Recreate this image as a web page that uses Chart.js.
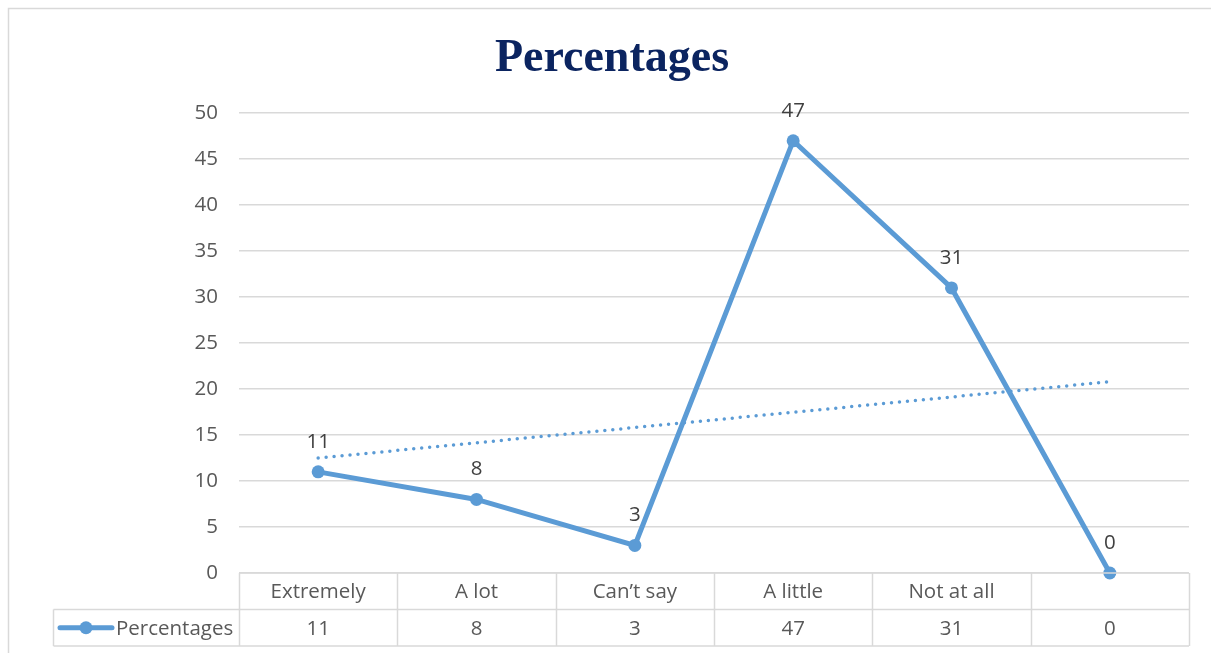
<!DOCTYPE html>
<html>
<head>
<meta charset="utf-8">
<script src="https://cdn.jsdelivr.net/npm/chart.js@4/dist/chart.umd.min.js"></script>
<style>
  html, body { margin: 0; padding: 0; background: #ffffff; }
  #wrap { width: 1211px; height: 653px; }
</style>
</head>
<body>
<div id="wrap"><canvas id="c" width="1211" height="653"></canvas></div>
<script>
// Survey responses, one point per answer
const categories = ['Extremely', 'A lot', 'Can\u2019t say', 'A little', 'Not at all', ''];
const percentages = [11, 8, 3, 47, 31, 0];
// Linear trend line, start and end values
const trendValues = [12.5, null, null, null, null, 20.8];
const seriesName = 'Percentages';

const BLUE = '#5B9BD5';
const TEXT = '#595959';
const GRID = '#d9d9d9';
const FONT = '"Open Sans", "Liberation Sans", sans-serif';
const FONT_SIZE = 20.5;

// Frame, point value labels and the data table under the plot
const tablePlugin = {
  id: 'dataTable',
  beforeDraw(chart) {
    const ctx = chart.ctx;
    ctx.save();
    ctx.fillStyle = '#ffffff';
    ctx.fillRect(0, 0, chart.width, chart.height);
    ctx.strokeStyle = GRID;
    ctx.lineWidth = 1.5;
    ctx.beginPath();
    ctx.moveTo(8.5, chart.height);
    ctx.lineTo(8.5, 8.5);
    ctx.lineTo(chart.width, 8.5);
    ctx.stroke();
    ctx.restore();
  },
  afterDatasetsDraw(chart) {
    const ctx = chart.ctx;
    const meta = chart.getDatasetMeta(0);
    ctx.save();
    ctx.fillStyle = '#404040';
    ctx.font = FONT_SIZE + 'px ' + FONT;
    ctx.textAlign = 'center';
    ctx.textBaseline = 'middle';
    meta.data.forEach((pt, i) => {
      ctx.fillText(String(percentages[i]), pt.x, pt.y - 30);
    });
    ctx.restore();
  },
  afterDraw(chart) {
    const ctx = chart.ctx;
    const x = chart.scales.x;
    const area = chart.chartArea;
    const n = categories.length;
    const cw = (area.right - area.left) / n;
    const top = area.bottom;
    const rowH = 36.5;
    const mid = top + rowH;
    const bot = top + rowH * 2;
    const legendLeft = 53.5;

    ctx.save();
    ctx.strokeStyle = GRID;
    ctx.lineWidth = 1.5;
    ctx.beginPath();
    ctx.moveTo(area.left, top); ctx.lineTo(area.right, top);
    ctx.moveTo(legendLeft, mid); ctx.lineTo(area.right, mid);
    ctx.moveTo(legendLeft, bot); ctx.lineTo(area.right, bot);
    ctx.moveTo(legendLeft, mid); ctx.lineTo(legendLeft, bot);
    for (let i = 0; i <= n; i++) {
      const bx = Math.round(x.getPixelForValue(0) - cw / 2 + i * cw) + 0.5;
      ctx.moveTo(bx, top); ctx.lineTo(bx, bot);
    }
    ctx.stroke();

    ctx.fillStyle = TEXT;
    ctx.font = FONT_SIZE + 'px ' + FONT;
    ctx.textAlign = 'center';
    ctx.textBaseline = 'middle';
    categories.forEach((c, i) => {
      const cx = x.getPixelForValue(i);
      ctx.fillText(c, cx, top + rowH / 2 + 1);
      ctx.fillText(String(percentages[i]), cx, mid + rowH / 2 + 1);
    });

    // legend key
    const ly = mid + rowH / 2;
    ctx.strokeStyle = BLUE;
    ctx.lineWidth = 5;
    ctx.lineCap = 'round';
    ctx.beginPath();
    ctx.moveTo(60, ly); ctx.lineTo(112, ly);
    ctx.stroke();
    ctx.fillStyle = BLUE;
    ctx.beginPath();
    ctx.arc(86, ly, 6.5, 0, Math.PI * 2);
    ctx.fill();
    ctx.fillStyle = TEXT;
    ctx.textAlign = 'left';
    ctx.fillText(chart.data.datasets[0].label, 116, ly + 1);
    ctx.restore();
  }
};

new Chart(document.getElementById('c'), {
  type: 'line',
  data: {
    labels: categories,
    datasets: [
      {
        label: seriesName,
        data: percentages,
        borderColor: BLUE,
        backgroundColor: BLUE,
        borderWidth: 5,
        pointRadius: 6.5,
        pointHoverRadius: 6.5,
        pointBackgroundColor: BLUE,
        pointBorderWidth: 0,
        tension: 0,
        clip: false,
        order: 1
      },
      {
        label: 'Linear trend',
        data: trendValues,
        borderColor: BLUE,
        borderWidth: 3.5,
        borderDash: [0, 8],
        borderCapStyle: 'round',
        pointRadius: 0,
        spanGaps: true,
        tension: 0,
        clip: false,
        order: 2
      }
    ]
  },
  options: {
    responsive: false,
    animation: false,
    events: [],
    layout: { padding: { left: 35, right: 22, top: 0, bottom: 80 } },
    plugins: {
      legend: { display: false },
      tooltip: { enabled: false },
      title: {
        display: true,
        text: 'Percentages',
        color: '#0B2460',
        font: { family: '"Liberation Serif", "Times New Roman", serif', size: 46, weight: 'bold' },
        padding: { top: 32, bottom: 26 }
      }
    },
    scales: {
      x: {
        type: 'category',
        offset: true,
        display: false
      },
      y: {
        min: 0,
        max: 50,
        ticks: {
          stepSize: 5,
          color: TEXT,
          font: { family: FONT, size: FONT_SIZE },
          padding: 21
        },
        grid: { color: GRID, lineWidth: 1.5, drawTicks: false },
        border: { display: false },
        afterFit(scale) { scale.width = 204; }
      }
    }
  },
  plugins: [tablePlugin]
});
</script>
</body>
</html>
